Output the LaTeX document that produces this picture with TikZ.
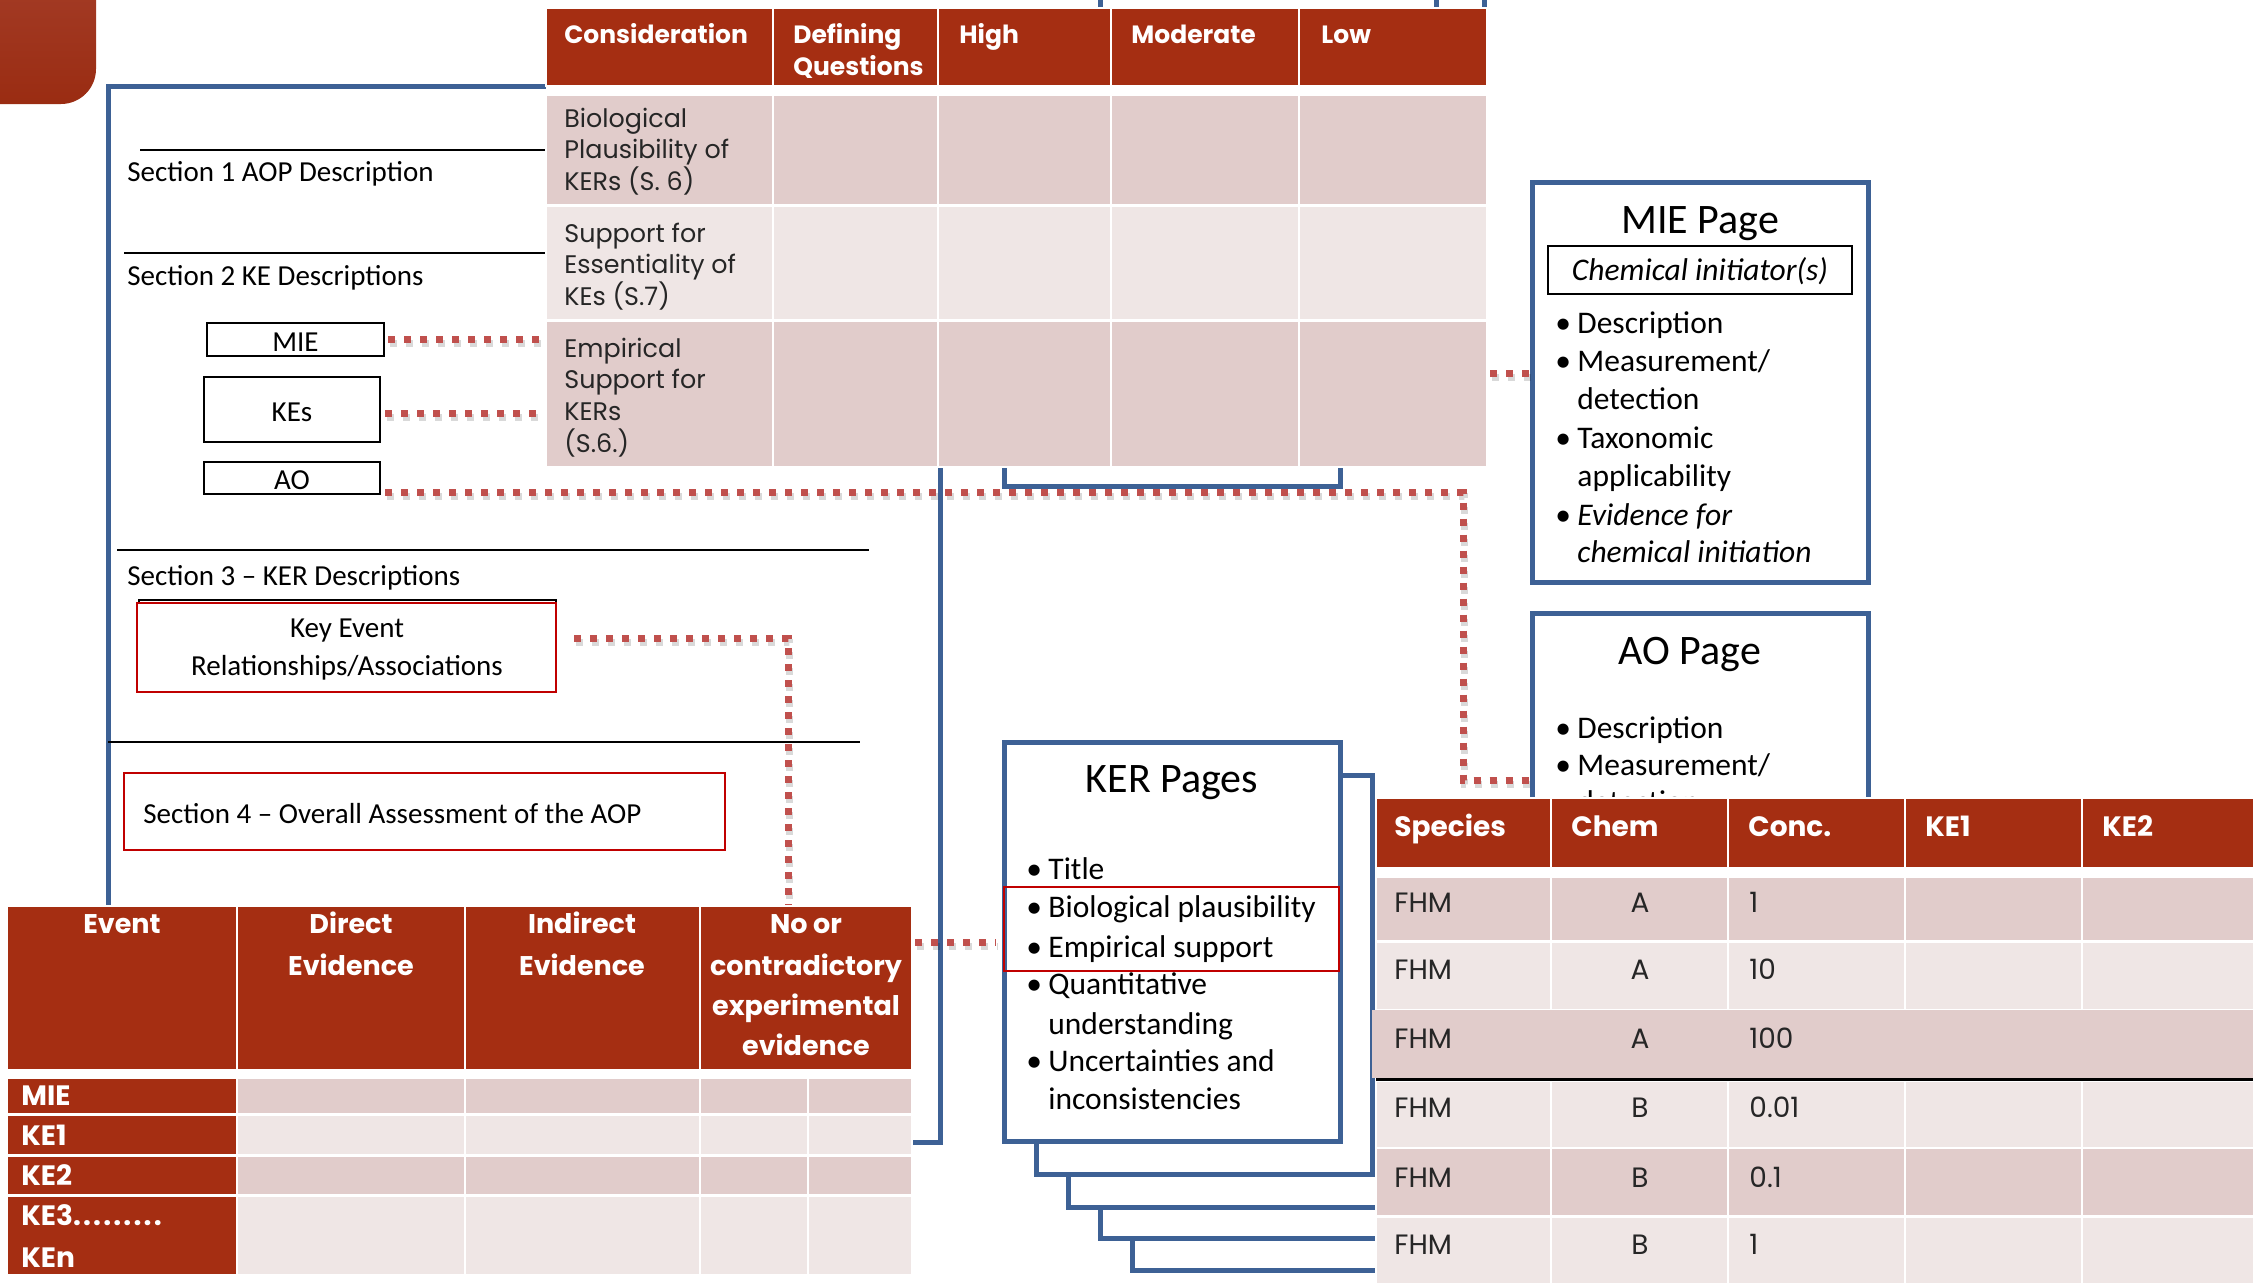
\documentclass[tikz,border=0pt]{standalone}
\usepackage{fontspec}
\setmainfont{Carlito}
\newfontfamily\gothic{Poppins}
\usetikzlibrary{fit}
\definecolor{hdr}{HTML}{A52E12}
\definecolor{pinkA}{HTML}{E1CCCB}
\definecolor{pinkB}{HTML}{EFE6E5}
\definecolor{aopblue}{HTML}{3D6195}
\definecolor{dotred}{HTML}{C0504D}
\definecolor{boxred}{HTML}{C00000}
\definecolor{celltxt}{HTML}{262626}
\definecolor{blkA}{HTML}{A6402C}
\definecolor{blkB}{HTML}{9A2C12}
\newcommand\fsz[1]{\fontsize{#1}{#1}\selectfont}
\newcommand\dotk{.\kern1.1pt}
\begin{document}
\begin{tikzpicture}[x=0.5pt,y=-0.5pt,
  blueln/.style={draw=aopblue, line width=2.5pt},
  dots/.style={draw=dotred, line width=3.5pt, dash pattern=on 3.5pt off 4.5pt,
    preaction={draw=black, draw opacity=0.15, line width=3.5pt, dash pattern=on 3.5pt off 4.5pt,
      transform canvas={xshift=0.8pt,yshift=-2pt}}},
  secline/.style={draw=black, line width=0.9pt},
  kbox/.style={draw=black, line width=1.3pt, inner sep=0pt},
  rbox/.style={draw=boxred, line width=1.3pt, inner sep=0pt},
  pbox/.style={draw=aopblue, line width=2.5pt, fill=white, inner sep=0pt},
  tbl/.style={fill=white, inner sep=0pt},
  cell/.style={draw=white, line width=1.2pt},
  sect/.style={anchor=base west, inner sep=0pt, font=\fsz{14.5}},
  lbl/.style={anchor=base, inner sep=0pt, font=\fsz{14.5}},
  ttl/.style={anchor=base, inner sep=0pt, font=\fsz{21}},
  itm/.style={anchor=base west, inner sep=0pt, font=\fsz{15.75}},
  thd/.style={anchor=base west, inner sep=0pt, text=white, font={\gothic\bfseries\fsz{12.5}}},
  tcell/.style={anchor=base west, inner sep=0pt, text=celltxt, font={\gothic\fsz{12.7}}},
  ehd/.style={anchor=base, inner sep=0pt, text=white, font={\gothic\bfseries\fsz{13.5}}},
  ecol/.style={anchor=base west, inner sep=0pt, text=white, font={\gothic\bfseries\fsz{14}}},
  shd/.style={anchor=base west, inner sep=0pt, text=white, font={\gothic\bfseries\fsz{14}}},
  scell/.style={anchor=base west, inner sep=0pt, text=celltxt, font={\gothic\fsz{14}}}]
\useasboundingbox (0,0) rectangle (2253,1282);
\clip (0,0) rectangle (2253,1282);

% corner block
\shade[top color=blkA, bottom color=blkB, rounded corners=17.5pt] (-60,-60) rectangle (96,104);

% AOP document frame
\draw[blueln] (108,86) rectangle (940,1142);

% section lines and texts
\draw[secline] (140,150) -- (546,150);
\draw[secline] (124,253) -- (546,253);
\draw[secline] (117,550) -- (869,550);
\draw[secline] (108,742) -- (860,742);
\node[sect] (s1) at (127,181) {Section 1 AOP Description};
\node[sect] (s2) at (127,285) {Section 2 KE Descriptions};
\node[sect] (s3) at (127,585) {Section 3 – KER Descriptions};

\node[kbox, fit={(207,323)(384,356)}] (mie) {};
\node[lbl] (mieL) at (295.5,351) {MIE};
\node[kbox, fit={(204,377)(380,442)}] (kes) {};
\node[lbl] (kesL) at (292,421) {KEs};
\node[kbox, fit={(204,462)(380,494)}] (ao) {};
\node[lbl] (aoL) at (292,489) {AO};

\draw[black, line width=1.3pt] (139,600) rectangle (556,690);
\node[rbox, fill=white, fit={(137,603)(556,692)}] (kerbox) {};
\node[lbl] (kerL1) at (347,637) {Key Event};
\node[lbl] (kerL2) at (347,675) {Relationships/Associations};

\node[rbox, fit={(124,773)(725,850)}] (s4) {};
\node[sect] (s4L) at (143,823) {Section 4 – Overall Assessment of the AOP};

% named reference nodes for the tables and pages
\node[tbl, fit={(546,8)(1487,467)}] (ctab) {};
\coordinate (aoK) at (1463,780);
\coordinate (kerK) at (788,638);
\coordinate (e2k) at (0,942);
\coordinate (t2m) at (0,373);

% dotted connectors (left side)
\draw[dots] ([xshift=1.5pt]mie.east) -- (mie.east -| ctab.west);
\draw[dots] ([xshift=2pt,yshift=-2pt]kes.east) -- ([yshift=-2pt]kes.east -| ctab.west);
\draw[dots] ([xshift=2pt,yshift=1.5pt]ao.south east) -| (aoK) -- (aoK -| 1532,0);
\draw[dots] ([xshift=8.5pt]kerbox.east |- kerK) -- (kerK) -- (kerK |- 0,906);

% Consideration table
\node[tbl, fit={(546,8)(1487,467)}] (ctab2) {};
\foreach \xa/\xb in {546/773,773/938,938/1111,1111/1299,1299/1487}{
  \path[cell, fill=hdr] (\xa,8) rectangle (\xb,86);
  \path[cell, fill=pinkA] (\xa,95) rectangle (\xb,205.5);
  \path[cell, fill=pinkB] (\xa,205.5) rectangle (\xb,320.5);
  \path[cell, fill=pinkA] (\xa,320.5) rectangle (\xb,467);
}
\node[thd] (h1) at (564,43) {Consideration};
\node[thd] (h2a) at (793,43) {Defining};
\node[thd] (h2b) at (793,75) {Questions};
\node[thd] (h3) at (959,43) {High};
\node[thd] (h4) at (1131,43) {Moderate};
\node[thd] (h5) at (1321,43) {Low};
\node[tcell] (c1a) at (564,127) {Biological};
\node[tcell] (c1b) at (564,158) {Plausibility of};
\node[tcell] (c1c) at (564,190) {KERs (S. 6)};
\node[tcell] (c2a) at (564,242) {Support for};
\node[tcell] (c2b) at (564,273) {Essentiality of};
\node[tcell] (c2c) at (564,305) {KEs (S.7)};
\node[tcell] (c3a) at (564,357) {Empirical};
\node[tcell] (c3b) at (564,388) {Support for};
\node[tcell] (c3c) at (564,420) {KERs};
\node[tcell] (c3d) at (564,452) {(S.6.)};

% bracket below the table and top ticks
\draw[blueln] (1004,468) -- (1004,486) -- (1340,486) -- (1340,468);
\draw[blueln] (1100,0) -- (1100,7);
\draw[blueln] (1436,0) -- (1436,7);
\draw[blueln] (1484,0) -- (1484,7);

% MIE page
\node[pbox, fit={(1532,182)(1868,582)}] (miep) {};
\node[ttl] (miepT) at (1700,233) {MIE Page};
\node[kbox, line width=1.2pt, fit={(1548,246)(1852,294)}] (chem) {};
\node[lbl, font=\fsz{15.75}\itshape] (chemL) at (1700,280) {Chemical initiator(s)};
\node[itm] (mb1) at (1555,333) {•};
\node[itm] (mi1) at (1577,333) {Description};
\node[itm] (mb2) at (1555,371) {•};
\node[itm] (mi2) at (1577,371) {Measurement/};
\node[itm] (mi2b) at (1577,409) {detection};
\node[itm] (mb3) at (1555,448) {•};
\node[itm] (mi3) at (1577,448) {Taxonomic};
\node[itm] (mi3b) at (1577,486) {applicability};
\node[itm] (mb4) at (1555,525) {•};
\node[itm, font=\fsz{15.75}\itshape] (mi4) at (1577,525) {Evidence for};
\node[itm, font=\fsz{15.75}\itshape] (mi4b) at (1577,562) {chemical initiation};
\draw[dots] ([xshift=1.5pt]ctab.east |- t2m) -- (miep.west |- t2m);

% AO page
\node[pbox, fit={(1532,613)(1868,900)}] (aop) {};
\node[ttl] (aopT) at (1690,664) {AO Page};
\node[itm] (ab1) at (1555,738) {•};
\node[itm] (ai1) at (1577,738) {Description};
\node[itm] (ab2) at (1555,775) {•};
\node[itm] (ai2) at (1577,775) {Measurement/};
\node[itm] (ai2b) at (1577,812) {detection};

% KER pages stack
\draw[blueln, fill=white] (1132,874) rectangle (1468,1270);
\draw[blueln, fill=white] (1100,841) rectangle (1436,1238);
\draw[blueln, fill=white] (1068,808) rectangle (1404,1207);
\draw[blueln, fill=white] (1036,775) rectangle (1372,1174);
\node[pbox, fit={(1004,742)(1340,1141)}] (kerp) {};
\node[ttl] (kerpT) at (1172,792) {KER Pages};
\node[itm] (kb1) at (1026,879) {•};
\node[itm] (ki1) at (1048,879) {Title};
\node[itm] (kb2) at (1026,917) {•};
\node[itm] (ki2) at (1048,917) {Biological plausibility};
\node[itm] (kb3) at (1026,957) {•};
\node[itm] (ki3) at (1048,957) {Empirical support};
\node[itm] (kb4) at (1026,994) {•};
\node[itm] (ki4) at (1048,994) {Quantitative};
\node[itm] (ki4b) at (1048,1034) {understanding};
\node[itm] (kb5) at (1026,1071) {•};
\node[itm] (ki5) at (1048,1071) {Uncertainties and};
\node[itm] (ki5b) at (1048,1109) {inconsistencies};
\node[rbox, fit={(1004,887)(1339,971)}] (hl) {};

% Species table
\node[tbl, fit={(1376,798)(2253,1282)}] (stab) {};
\foreach \xa/\xb in {1376/1551,1551/1728,1728/1905,1905/2082,2082/2270}{
  \path[cell, fill=hdr] (\xa,798) rectangle (\xb,868);
  \path[cell, fill=pinkA] (\xa,877) rectangle (\xb,941.5);
  \path[cell, fill=pinkB] (\xa,941.5) rectangle (\xb,1010);
  \path[cell, fill=pinkB] (\xa,1081) rectangle (\xb,1148);
  \path[cell, fill=pinkA] (\xa,1148) rectangle (\xb,1216.5);
  \path[cell, fill=pinkB] (\xa,1216.5) rectangle (\xb,1290);
}
\fill[pinkA] (1372,1010) rectangle (2260,1078);
\draw[black, line width=1.4pt] (1376,1079.5) -- (2260,1079.5);
\node[shd] (sh1) at (1394,836) {Species};
\node[shd] (sh2) at (1571,836) {Chem};
\node[shd] (sh3) at (1748,836) {Conc.};
\node[shd] (sh4) at (1925,836) {KE1};
\node[shd] (sh5) at (2102,836) {KE2};
\foreach \y/\c/\v [count=\i] in {912/A/1,979/A/10,1048/A/100,1117/B/0.01,1187/B/0.1,1254/B/1}{
  \node[scell] (sp\i) at (1394,\y) {FHM};
  \node[scell, anchor=base] (sc\i) at (1640,\y) {\c};
  \node[scell] (sv\i) at (1749,\y) {\v};
}

% Event table
\node[tbl, fit={(7,906)(912,1275)}] (evt) {};
\foreach \xa/\xb in {7/237,237/465,465/700,700/912}{
  \path[cell, fill=hdr] (\xa,906) rectangle (\xb,1070);
}
\foreach \ya/\yb/\col in {1078/1114.5/pinkA,1114.5/1155.5/pinkB,1155.5/1195.5/pinkA,1195.5/1275/pinkB}{
  \path[cell, fill=hdr] (7,\ya) rectangle (237,\yb);
  \foreach \xa/\xb in {237/465,465/700,700/808,808/912}{
    \path[cell, fill=\col] (\xa,\ya) rectangle (\xb,\yb);
  }
}
\node[ehd] (eh1) at (122,933) {Event};
\node[ehd] (eh2a) at (351,933) {Direct};
\node[ehd] (eh2b) at (351,975) {Evidence};
\node[ehd] (eh3a) at (582,933) {Indirect};
\node[ehd] (eh3b) at (582,975) {Evidence};
\node[ehd] (eh4a) at (806,933) {No or};
\node[ehd] (eh4b) at (806,975) {contradictory};
\node[ehd] (eh4c) at (806,1015) {experimental};
\node[ehd] (eh4d) at (806,1055) {evidence};
\node[ecol] (er1) at (21,1105) {MIE};
\node[ecol] (er2) at (21,1145) {KE1};
\node[ecol] (er3) at (21,1185) {KE2};
\node[ecol] (er4) at (21,1225) {KE3\dotk\dotk\dotk\dotk\dotk\dotk\dotk\dotk.};
\node[ecol] (er5) at (21,1267) {KEn};

% dotted connector event table -> KER pages
\draw[dots] ([xshift=1.5pt]evt.east |- e2k) -- ([xshift=-3pt]kerp.west |- e2k);
\end{tikzpicture}
\end{document}
